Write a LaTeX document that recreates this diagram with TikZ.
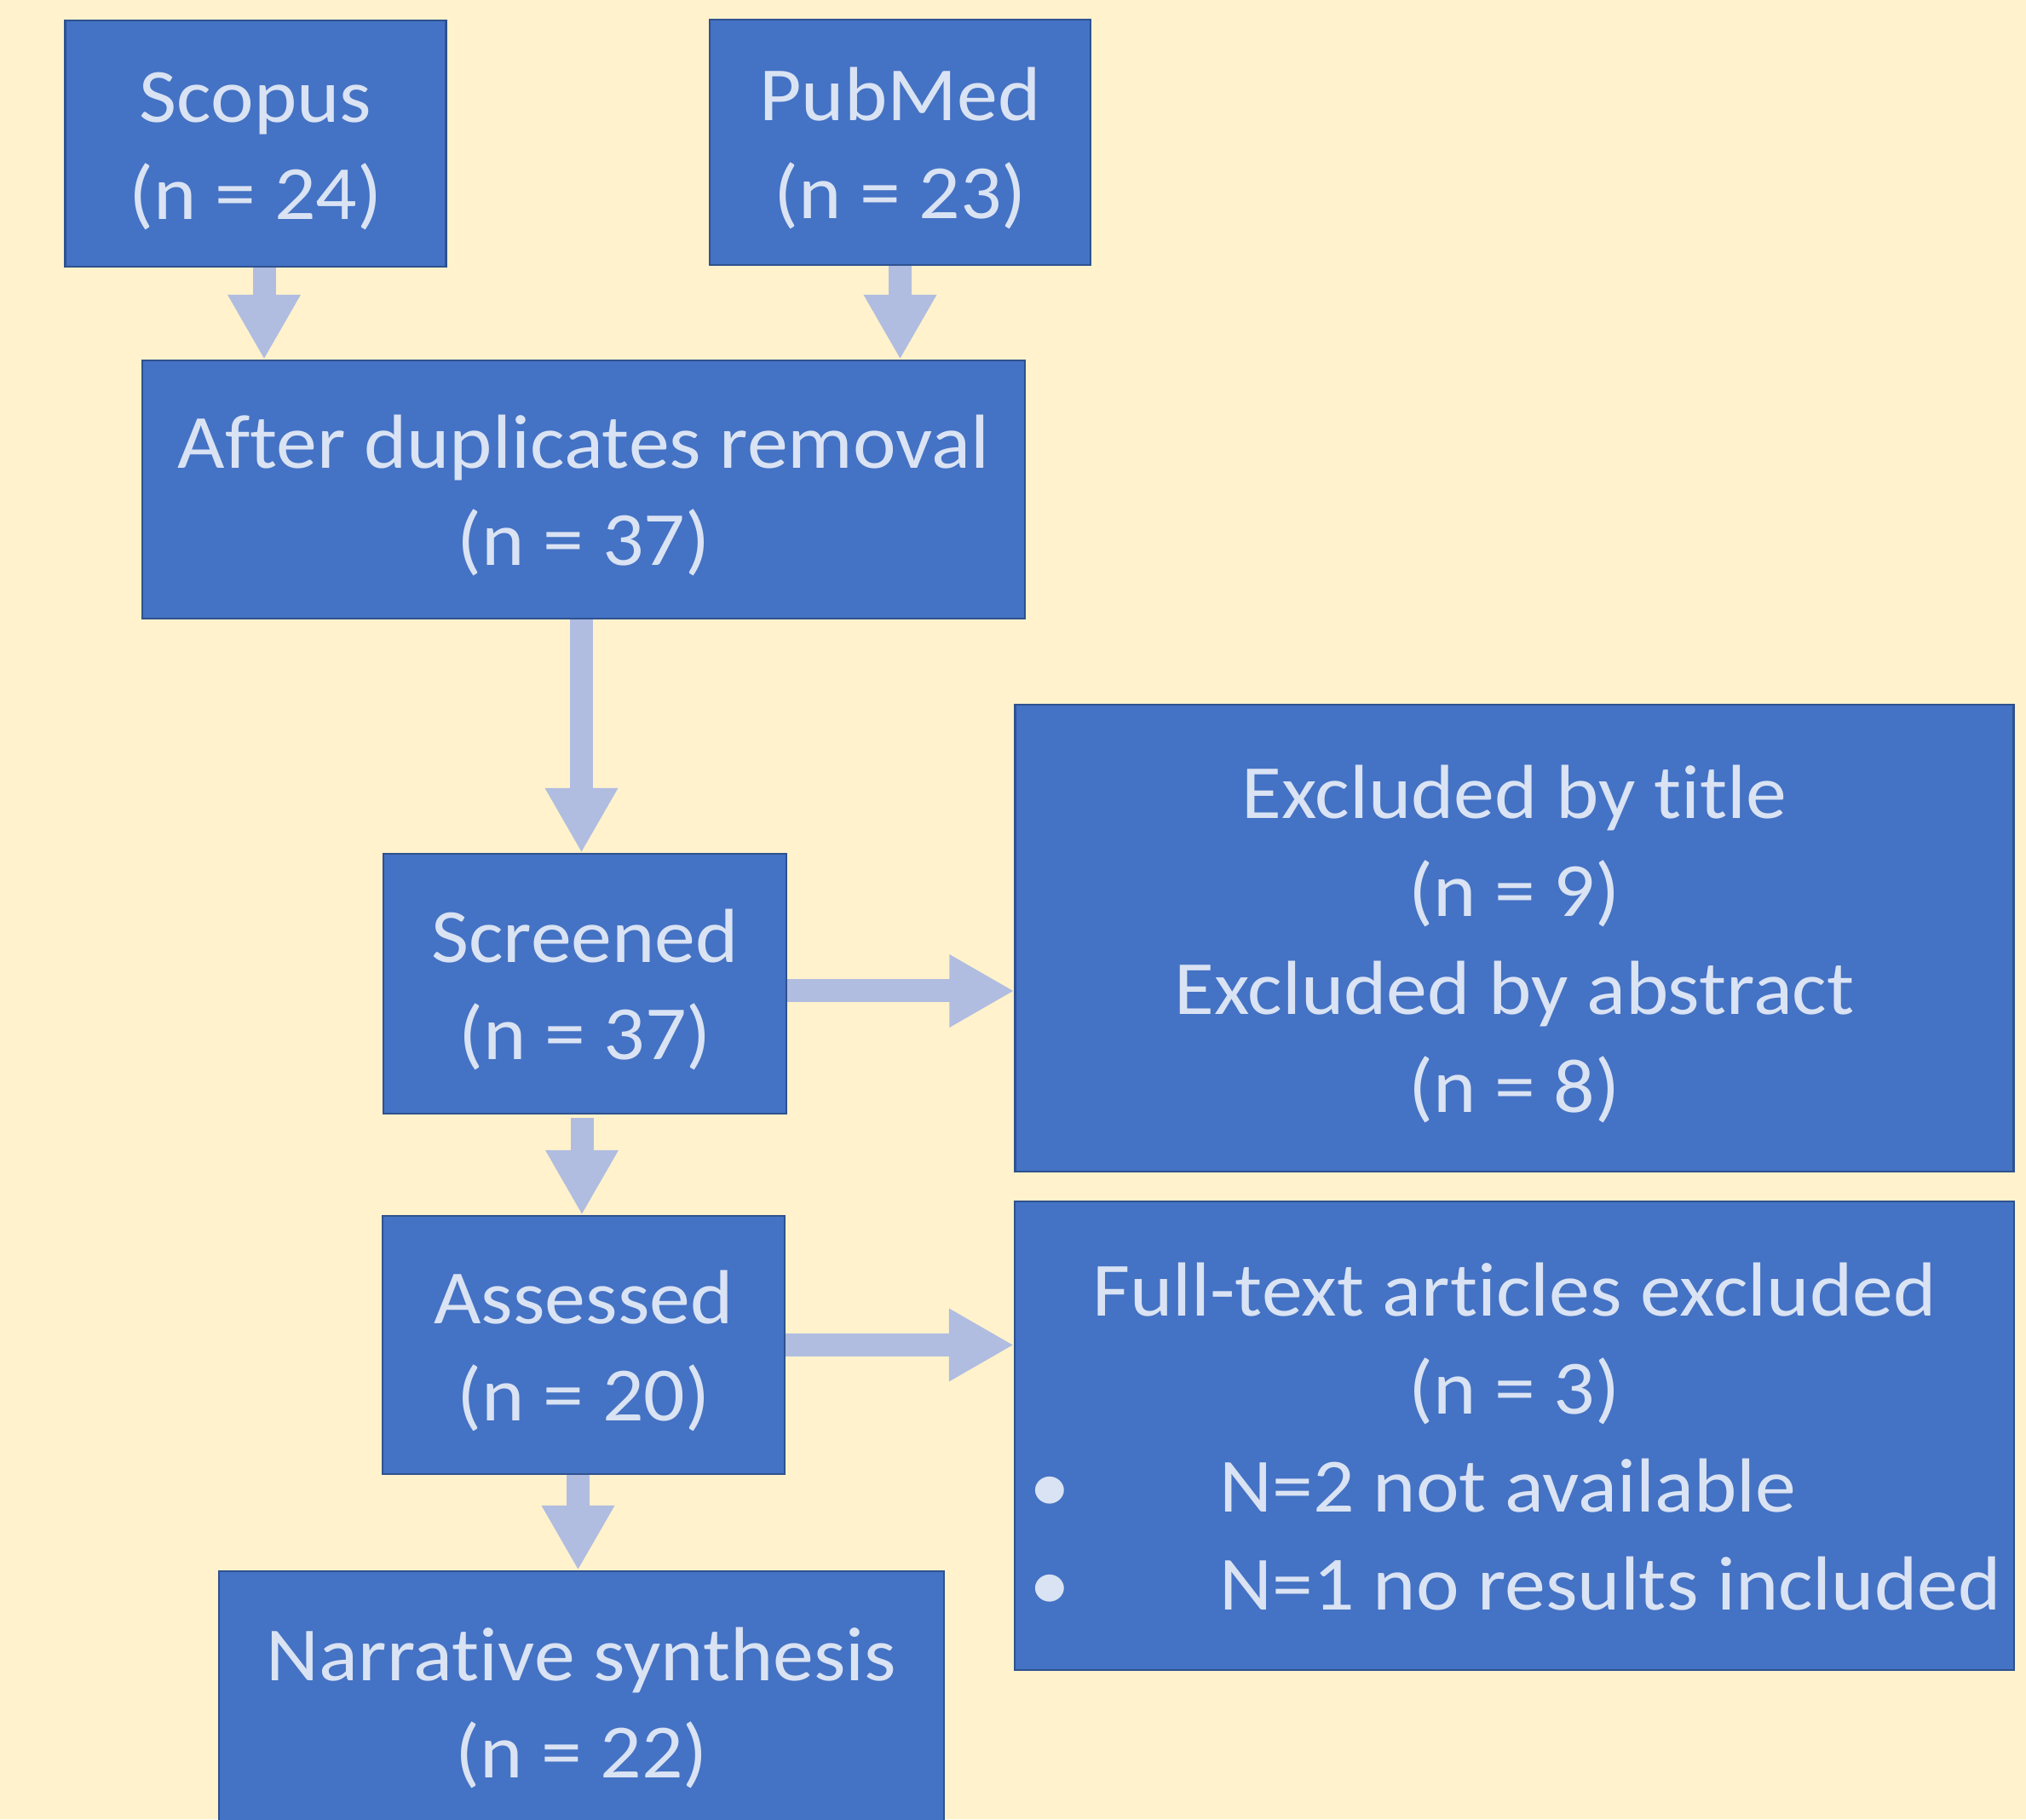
\documentclass[tikz,border=0pt]{standalone}
\usepackage{fontspec}
\setmainfont{Carlito}[FakeStretch=1.065,Ligatures=NoCommon]
\usetikzlibrary{arrows.meta}
\definecolor{bgyellow}{HTML}{FFF2CC}
\definecolor{boxblue}{HTML}{4472C4}
\definecolor{boxedge}{HTML}{2F528F}
\definecolor{boxtext}{HTML}{DAE3F3}
\definecolor{arrowblue}{HTML}{B0BDE0}
\newcommand{\tstrut}{\rule{0pt}{26pt}}
\newcommand{\bitem}[1]{\makebox[11.73cm][l]{\hspace*{0.17cm}\makebox[2.24cm][l]{\textbullet}#1}}
\tikzset{box/.style={draw=boxedge,line width=0.6pt,fill=boxblue,text=boxtext,align=center,inner sep=0pt,
  font=\fontsize{25.6}{32.7}\selectfont,execute at end node={\rule[-7.8pt]{0pt}{0pt}}},
  flow/.style={draw=arrowblue,line width=2.7mm,-{Triangle[width=8mm,length=7.6mm]}}}
\begin{document}
\begin{tikzpicture}[x=1cm,y=1cm]
\clip (0,0) rectangle (23.78,21.35); \fill[bgyellow] (0,0) rectangle (23.78,21.35);
\node[box,minimum width=4.47cm,minimum height=2.89cm] (scopus) at (3.00,19.665) {\tstrut Scopus\\(n = 24)};
\node[box,minimum width=4.47cm,minimum height=2.88cm] (pubmed) at (10.565,19.68) {\tstrut PubMed\\(n = 23)};
\node[box,minimum width=10.36cm,minimum height=3.03cm] (dup) at (6.85,15.605) {\tstrut After duplicates removal\\(n = 37)};
\node[box,minimum width=4.73cm,minimum height=3.05cm] (screened) at (6.865,9.805) {\tstrut Screened\\(n = 37)};
\node[box,minimum width=11.72cm,minimum height=5.48cm] (excl) at (17.775,10.34)
  {\tstrut Excluded by title\\(n = 9)\\Excluded by abstract\\(n = 8)};
\node[box,minimum width=4.72cm,minimum height=3.03cm] (assessed) at (6.85,5.565) {\tstrut Assessed\\(n = 20)};
\node[box,minimum width=11.73cm,minimum height=5.50cm] (fulltext) at (17.775,4.50)
  {\tstrut Full-text articles excluded\\(n = 3)\\\bitem{N=2 not available}\\\bitem{N=1 no results included}};
\node[box,minimum width=8.51cm,minimum height=3.07cm] (synth) at (6.825,1.375) {\tstrut Narrative synthesis\\(n = 22)};
\draw[flow] ([xshift=1mm]scopus.south) -- ([xshift=1mm]scopus.south |- dup.north);
\draw[flow] (pubmed.south) -- (pubmed.south |- dup.north);
\draw[flow] ([xshift=-0.25mm]dup.south) -- ([xshift=-0.25mm]dup.south |- screened.north);
\draw[flow,shorten <=0.4mm] ([xshift=-0.35mm]screened.south) -- ([xshift=-0.35mm]screened.south |- assessed.north);
\draw[flow] ([xshift=-0.65mm]assessed.south) -- ([xshift=-0.65mm]assessed.south |- synth.north);
\draw[flow] ([yshift=-0.85mm]screened.east) -- ([yshift=-0.85mm]screened.east -| excl.west);
\draw[flow] (assessed.east) -- (assessed.east -| fulltext.west);
\end{tikzpicture}
\end{document}
